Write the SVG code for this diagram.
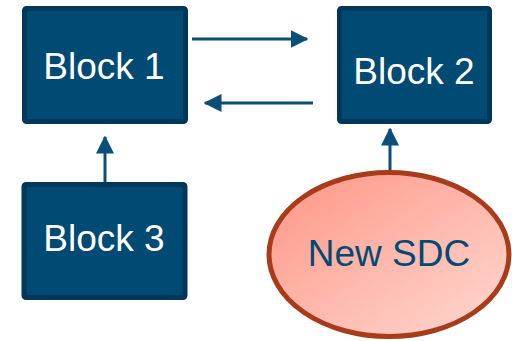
<svg xmlns="http://www.w3.org/2000/svg" width="512" height="341" viewBox="0 0 512 341">
<style>
.blk{fill:#004a73;stroke:#00375a;stroke-width:5}
.lbl{font-family:"Liberation Sans",Arial,sans-serif;font-size:37px;fill:#ffffff;text-anchor:middle}
.con{stroke:#0b4f78;stroke-width:3;fill:none}
</style>
<defs>
<marker id="ah" markerWidth="6" markerHeight="6" refX="5.5" refY="3" orient="auto" markerUnits="strokeWidth">
<path d="M0,0 L6,3 L0,6 Z" fill="#0b4f78"/>
</marker>
<linearGradient id="g" x1="0" y1="0" x2="1" y2="1">
<stop offset="0" stop-color="#ff9585"/>
<stop offset="1" stop-color="#ffd9d2"/>
</linearGradient>
</defs>
<g id="connectors">
<line class="con" x1="192" y1="39" x2="307" y2="39" marker-end="url(#ah)"/>
<line class="con" x1="313" y1="103" x2="205" y2="103" marker-end="url(#ah)"/>
<line class="con" x1="105" y1="182" x2="105" y2="137" marker-end="url(#ah)"/>
<line class="con" x1="390" y1="175" x2="390" y2="129" marker-end="url(#ah)"/>
</g>
<g id="block1">
<rect class="blk" x="24.5" y="8.5" width="161" height="113" rx="2"/>
<text class="lbl" x="104" y="79">Block 1</text>
</g>
<g id="block2">
<rect class="blk" x="339.5" y="8.5" width="150" height="113" rx="2"/>
<text class="lbl" x="414" y="84">Block 2</text>
</g>
<g id="block3">
<rect class="blk" x="24" y="184.5" width="161" height="113" rx="2"/>
<text class="lbl" x="104" y="251">Block 3</text>
</g>
<g id="newsdc">
<ellipse cx="389" cy="254.5" rx="120" ry="82" fill="url(#g)" stroke="#a83c1a" stroke-width="5"/>
<text class="lbl" x="389" y="266" style="fill:#004a73">New SDC</text>
</g>
</svg>
